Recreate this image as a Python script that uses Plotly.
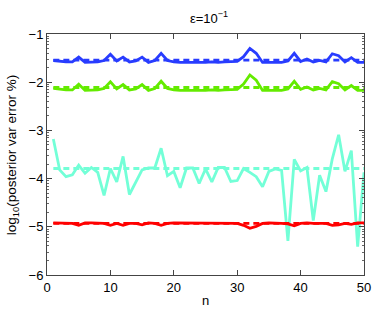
import math
import plotly.graph_objects as go

n = list(range(1, 51))

blue = [-1.55, -1.57, -1.58, -1.58, -1.48, -1.59, -1.59, -1.58, -1.55, -1.42,
        -1.56, -1.48, -1.58, -1.56, -1.48, -1.59, -1.55, -1.40, -1.55, -1.58,
        -1.59, -1.59, -1.60, -1.60, -1.59, -1.58, -1.59, -1.58, -1.58, -1.57,
        -1.47, -1.30, -1.40, -1.59, -1.59, -1.59, -1.59, -1.56, -1.40, -1.57,
        -1.52, -1.58, -1.55, -1.58, -1.41, -1.45, -1.58, -1.49, -1.59, -1.59]
blue_mean = -1.54

green = [-2.13, -2.15, -2.16, -2.16, -2.04, -2.17, -2.17, -2.16, -2.13, -1.99,
         -2.14, -2.05, -2.16, -2.14, -2.05, -2.17, -2.13, -1.98, -2.13, -2.16,
         -2.17, -2.17, -2.18, -2.18, -2.17, -2.16, -2.17, -2.16, -2.16, -2.15,
         -2.04, -1.85, -1.96, -2.17, -2.17, -2.17, -2.17, -2.14, -1.98, -2.15,
         -2.10, -2.16, -2.13, -2.16, -1.99, -2.03, -2.16, -2.07, -2.17, -2.17]
green_mean = -2.11

cyan = [-3.18, -3.82, -3.96, -3.92, -3.72, -3.89, -3.77, -3.87, -4.35, -3.79,
        -4.07, -3.54, -4.33, -4.07, -3.82, -3.78, -3.78, -3.37, -3.94, -3.85,
        -4.19, -3.78, -3.78, -4.10, -3.80, -4.07, -3.77, -3.77, -4.06, -4.04,
        -3.79, -3.87, -3.96, -4.17, -3.85, -3.80, -3.83, -5.29, -3.60, -3.84,
        -3.77, -4.87, -3.93, -4.27, -3.59, -3.09, -3.85, -3.42, -5.41, -3.87]
cyan_mean = -3.79

red = [-4.92, -4.92, -4.93, -4.93, -4.97, -4.92, -4.92, -4.93, -4.93, -4.97,
       -4.93, -4.97, -4.93, -4.93, -4.96, -4.92, -4.93, -4.97, -4.93, -4.92,
       -4.92, -4.92, -4.92, -4.92, -4.92, -4.92, -4.92, -4.92, -4.92, -4.93,
       -4.97, -5.03, -4.99, -4.93, -4.92, -4.92, -4.93, -4.94, -4.98, -4.93,
       -4.92, -4.93, -4.93, -4.93, -4.97, -4.96, -4.93, -4.95, -4.92, -4.92]
red_mean = -4.93

x_ticks = [0, 10, 20, 30, 40, 50]
y_ticks = [-6, -5, -4, -3, -2, -1]

series = [
    (blue, blue_mean, "rgb(40,60,255)"),
    (green, green_mean, "rgb(100,235,0)"),
    (cyan, cyan_mean, "rgb(115,255,215)"),
    (red, red_mean, "rgb(255,0,0)"),
]

fig = go.Figure()
for vals, mean, col in series:
    fig.add_trace(go.Scatter(x=n, y=[mean] * len(n), mode="lines",
                             line=dict(color=col, width=2.8, dash="6px,4px"),
                             showlegend=False, hoverinfo="skip"))
    fig.add_trace(go.Scatter(x=n, y=vals, mode="lines",
                             line=dict(color=col, width=2.8),
                             showlegend=False))

minor_y = []
for k in range(-6, -1):
    for m in range(2, 10):
        minor_y.append(k + math.log10(m))

font = dict(family="Liberation Sans, Arial, sans-serif", size=13, color="black")

fig.update_layout(
    width=382, height=317,
    margin=dict(l=47, r=11, t=34, b=35),
    paper_bgcolor="white", plot_bgcolor="white",
    font=font,
    title=dict(text="ε=10<sup>−1</sup>", x=209 / 382, xanchor="center",
               y=1 - 18 / 317, yanchor="middle", yref="container",
               font=dict(size=13)),
    xaxis=dict(range=[0, 50], tickvals=x_ticks, ticks="inside", ticklen=5,
               tickcolor="#444", showline=True, linecolor="#444", linewidth=1,
               mirror="ticks", showgrid=False, zeroline=False,
               ticklabeloverflow="allow",
               title=dict(text="n", standoff=2, font=dict(size=13))),
    yaxis=dict(range=[-6, -1], tickvals=y_ticks, ticks="inside", ticklen=5,
               tickcolor="#444", showline=True, linecolor="#444", linewidth=1,
               mirror="ticks", showgrid=False, zeroline=False,
               ticklabeloverflow="allow",
               minor=dict(tickmode="array", tickvals=minor_y, ticks="inside",
                          ticklen=2, tickcolor="#666")),
    annotations=[dict(text="log<sub>10</sub>(posterior var error %)",
                      textangle=-90, x=(12 - 47) / 324, xref="paper",
                      y=0.5, yref="paper", xanchor="center", yanchor="middle",
                      showarrow=False, font=dict(size=13.5))],
)

fig.write_html("out.html",
               config={"displayModeBar": False},
               post_script="document.body.style.margin='0';"
                           "document.body.style.overflow='hidden';")
